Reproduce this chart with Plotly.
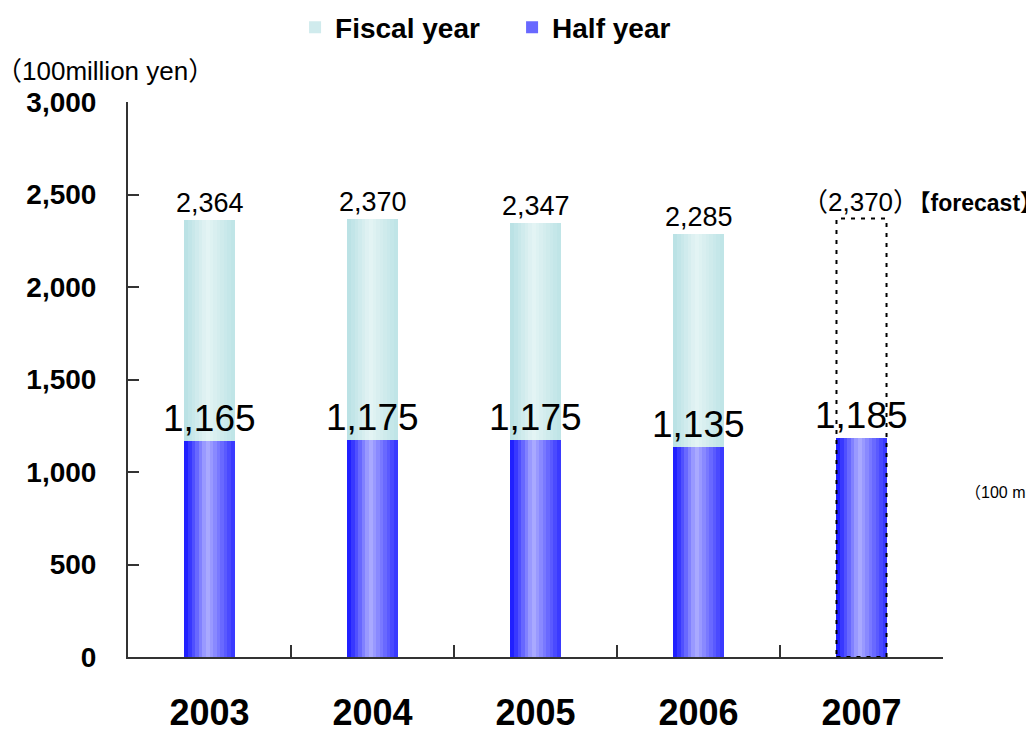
import plotly.graph_objects as go

years = ["2003", "2004", "2005", "2006", "2007"]
fiscal_years = ["2003", "2004", "2005", "2006"]
fiscal_values = [2364, 2370, 2347, 2285]
half_values = [1165, 1175, 1175, 1135, 1185]
forecast_year = "2007"
forecast_value = 2370

BAR_W = 0.307
N = 14

def lerp(c1, c2, t):
    return "rgb(%d,%d,%d)" % tuple(round(a + (b - a) * t) for a, b in zip(c1, c2))

def grad(edge_l, center, edge_r, i, n, cpos=0.45):
    t = (i + 0.5) / n
    if t <= cpos:
        return lerp(edge_l, center, t / cpos)
    return lerp(center, edge_r, (t - cpos) / (1 - cpos))

fig = go.Figure()

fis_l, fis_c, fis_r = (184, 224, 228), (228, 244, 244), (190, 228, 230)
half_l, half_c, half_r = (20, 20, 255), (172, 172, 255), (50, 50, 255)

for i in range(N):
    fig.add_trace(go.Bar(
        x=fiscal_years, y=fiscal_values, width=BAR_W / N,
        offset=-BAR_W / 2 + i * BAR_W / N,
        marker=dict(color=grad(fis_l, fis_c, fis_r, i, N), line=dict(width=0)),
        name="Fiscal year", legendgroup="fiscal",
        showlegend=(i == 3), hoverinfo="skip"))

for i in range(N):
    fig.add_trace(go.Bar(
        x=years, y=half_values, width=BAR_W / N,
        offset=-BAR_W / 2 + i * BAR_W / N,
        marker=dict(color=grad(half_l, half_c, half_r, i, N), line=dict(width=0)),
        name="Half year", legendgroup="half",
        showlegend=(i == 3), hoverinfo="skip"))

annotations = []
for yr, v in zip(fiscal_years, fiscal_values):
    annotations.append(dict(x=years.index(yr), y=v, text=f"{v:,}", showarrow=False,
                            yanchor="bottom", yshift=0,
                            font=dict(size=27, color="black", family="Liberation Sans")))
for yr, v in zip(years, half_values):
    annotations.append(dict(x=years.index(yr), y=v, text=f"{v:,}", showarrow=False,
                            yanchor="bottom", yshift=0,
                            font=dict(size=37, color="black", family="Liberation Sans")))

annotations.append(dict(
    x=years.index(forecast_year), y=forecast_value, xanchor="left", yanchor="bottom",
    xshift=-62, yshift=0, showarrow=False,
    text=f"<span style='font-size:26px'>（{forecast_value:,}）</span><b>【forecast】</b>",
    font=dict(size=23, color="black", family="Liberation Sans, Noto Sans CJK JP")))

annotations.append(dict(
    xref="paper", yref="paper", x=-0.165, y=1.025, xanchor="left", yanchor="bottom",
    text="（100million yen）", showarrow=False,
    font=dict(size=26, color="black", family="Liberation Sans, Noto Sans CJK JP")))

annotations.append(dict(
    xref="paper", yref="paper", x=1.025, y=0.297, xanchor="left", yanchor="middle",
    text="（100 million yen）", showarrow=False,
    font=dict(size=16, color="black", family="Liberation Sans, Noto Sans CJK JP")))

idx = years.index(forecast_year)
shapes = [dict(type="rect", xref="x", yref="y",
               x0=idx - BAR_W / 2, x1=idx + BAR_W / 2, y0=0, y1=forecast_value,
               line=dict(color="black", width=2, dash="4px,6px"),
               fillcolor="rgba(0,0,0,0)", layer="above")]

fig.update_layout(
    width=1026, height=724,
    margin=dict(l=120, r=91, t=94, b=75, autoexpand=False),
    paper_bgcolor="white", plot_bgcolor="white",
    barmode="overlay", bargap=0,
    annotations=annotations, shapes=shapes,
    legend=dict(orientation="h", x=0.205, xanchor="left", y=1.179, yanchor="top",
                font=dict(size=28, color="black", family="Liberation Sans", weight="bold"),
                itemwidth=30, entrywidth=172, entrywidthmode="pixels", tracegroupgap=0),
    xaxis=dict(type="category", categoryorder="array", categoryarray=years,
               range=[-0.5, 4.5], showline=True, linecolor="#333", linewidth=2,
               ticks="inside", tickson="boundaries", ticklen=12, tickcolor="#333",
               tickwidth=2, showgrid=False, ticklabelstandoff=23, automargin=False,
               tickfont=dict(size=36, color="black", family="Liberation Sans", weight="bold")),
    yaxis=dict(range=[0, 3000], dtick=500, tickformat=",", showline=True,
               linecolor="#333", linewidth=2, ticks="inside", ticklen=11,
               tickcolor="#333", tickwidth=2, showgrid=False, zeroline=False,
               ticklabelstandoff=24, automargin=False,
               tickfont=dict(size=28, color="black", family="Liberation Sans", weight="bold")),
)

fig.write_html("out.html")
